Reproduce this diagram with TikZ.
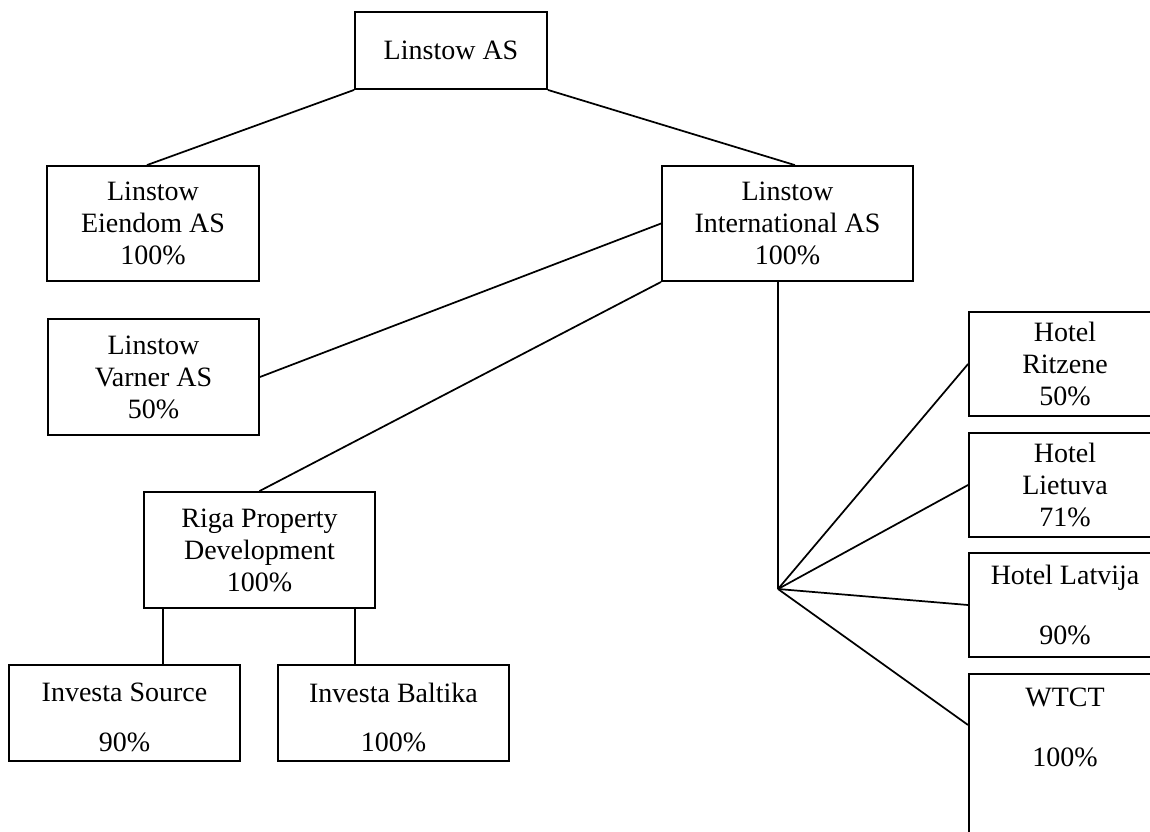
\documentclass[tikz,border=0pt]{standalone}
\usepackage{fontspec}
\setmainfont{Liberation Serif}
\usetikzlibrary{calc}
\begin{document}
\begin{tikzpicture}[x=0.75pt,y=-0.75pt,
  bx/.style={draw=black,line width=1.4pt,rectangle,inner sep=0pt,align=center,
    font=\fontsize{21}{24}\selectfont},
  ln/.style={line width=1.3pt,black},
  tx/.style={inner sep=0pt,align=center,font=\fontsize{21}{24}\selectfont}]
\useasboundingbox (0,0) rectangle (1150,832);
\clip (0,0) rectangle (1150,832);
\fill[white] (0,0) rectangle (1150,832);
% boxes
\node[bx,minimum width=144pt,minimum height=57.75pt] (L) at (451,50.5) {Linstow AS};
\node[bx,minimum width=159pt,minimum height=86.25pt] (E) at (153,223.5) {Linstow\\Eiendom AS\\100\%};
\node[bx,minimum width=188.25pt,minimum height=86.25pt] (I) at (787.5,223.5) {Linstow\\International AS\\100\%};
\node[bx,minimum width=158.25pt,minimum height=87pt] (V) at (153.5,377) {Linstow\\Varner AS\\50\%};
\node[bx,minimum width=173.25pt,minimum height=87pt] (R) at (259.5,550) {Riga Property\\Development\\100\%};
\node[bx,minimum width=173.25pt,minimum height=72pt] (S) at (124.5,713) {};
\node[tx] (St) at (124.5,717.5) {Investa Source\\[13pt]90\%};
\node[bx,minimum width=173.25pt,minimum height=72pt] (B) at (393.5,713) {};
\node[tx] (Bt) at (393.5,717.5) {Investa Baltika\\[13pt]100\%};
\node[bx,minimum width=144pt,minimum height=78pt] (H1) at (1065,364) {Hotel\\Ritzene\\50\%};
\node[bx,minimum width=144pt,minimum height=78pt] (H2) at (1065,485) {Hotel\\Lietuva\\71\%};
\node[bx,minimum width=144pt,minimum height=78pt] (H3) at (1065,605) {Hotel Latvija\\[21pt]90\%};
\node[bx,minimum width=144pt,minimum height=132pt] (W) at (1065,762) {};
\node[tx,anchor=north] (Wt) at ($(W.north)+(0,15)$) {WTCT\\[21pt]100\%};
% helper coordinates
\coordinate (hub) at (778,589);
\coordinate (c1) at (163,0);
\coordinate (c2) at (355,0);
% connectors
\draw[ln] (L.south west) -- ([xshift=-4.5pt]E.north);
\draw[ln] (L.south east) -- ([xshift=5.5pt]I.north);
\draw[ln] (V.east) -- (I.west);
\draw[ln] (R.north) -- (I.south west);
\draw[ln] (I.south -| hub) -- (hub);
\draw[ln] (hub) -- (H1.west);
\draw[ln] (hub) -- (H2.west);
\draw[ln] (hub) -- (H3.west);
\draw[ln] (hub) -- (W.west |- 0,725);
\draw[ln] (R.south -| c1) -- (S.north -| c1);
\draw[ln] (R.south -| c2) -- (B.north -| c2);
\end{tikzpicture}
\end{document}
